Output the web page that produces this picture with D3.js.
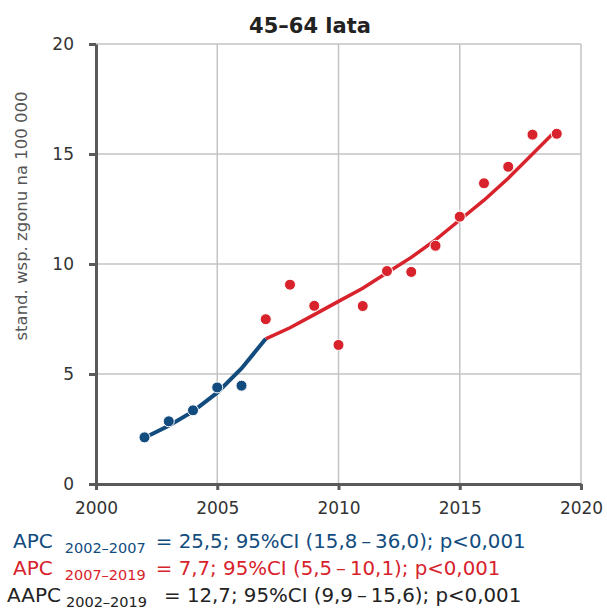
<!DOCTYPE html>
<html>
<head>
  <meta charset="UTF-8">
  <style>
    body { margin: 0; background: #fff; }
    svg { display: block; font-family: "DejaVu Sans", sans-serif; }
  </style>
</head>
<body>
<svg></svg>
<script src="https://d3js.org/d3.v7.min.js"></script>
<script>

let width = 607, height = 611;

// data
const years = [2002, 2003, 2004, 2005, 2006, 2007, 2008, 2009, 2010, 2011, 2012, 2013, 2014, 2015, 2016, 2017, 2018, 2019];
const observed = [2.12, 2.85, 3.35, 4.39, 4.47, 7.49, 9.06, 8.1, 6.32, 8.09, 9.68, 9.64, 10.83, 12.15, 13.67, 14.42, 15.88, 15.92];
const fitBlueYears = [2002, 2003, 2004, 2005, 2006, 2007];
const fitBlue = [2.1, 2.65, 3.3, 4.15, 5.25, 6.6];
const fitRedYears = [2007, 2008, 2009, 2010, 2011, 2012, 2013, 2014, 2015, 2016, 2017, 2018, 2019];
const fitRed = [6.6, 7.1, 7.7, 8.3, 8.9, 9.6, 10.3, 11.1, 12.0, 12.9, 13.9, 15.0, 16.1];
const xTicks = [2000, 2005, 2010, 2015, 2020];
const yTicks = [0, 5, 10, 15, 20];

const blue = "#124c7e", red = "#d8222c", axisCol = "#5a5a5a", gridCol = "#c3c3c3";

let svg = d3.select("svg")
    .attr("width", width)
    .attr("height", height);

let x = d3.scaleLinear().domain([2000, 2020]).range([96, 581]);
let y = d3.scaleLinear().domain([0, 20]).range([484, 44]);

// title
svg.append("text")
    .attr("x", 310).attr("y", 33)
    .attr("text-anchor", "middle")
    .style("font-size", "21px").style("font-weight", "bold").style("fill", "#222")
    .text("45–64 lata");

// grid
svg.append("g").selectAll("line")
    .data(xTicks.slice(1))
    .enter().append("line")
    .attr("x1", d => x(d)).attr("x2", d => x(d))
    .attr("y1", y(20)).attr("y2", y(0))
    .style("stroke", gridCol).style("stroke-width", 1.5);

svg.append("g").selectAll("line")
    .data(yTicks.slice(1))
    .enter().append("line")
    .attr("x1", x(2000)).attr("x2", x(2020))
    .attr("y1", d => y(d)).attr("y2", d => y(d))
    .style("stroke", gridCol).style("stroke-width", 1.5);

// axes
let yAxis = svg.append("g")
    .attr("transform", "translate(" + x(2000) + ",0)")
    .call(d3.axisLeft(y).tickValues(yTicks).tickSize(7).tickPadding(15).tickSizeOuter(0));
let xAxis = svg.append("g")
    .attr("transform", "translate(0," + y(0) + ")")
    .call(d3.axisBottom(x).tickValues(xTicks).tickFormat(d3.format("d")).tickSize(6).tickPadding(6).tickSizeOuter(0));

[yAxis, xAxis].forEach(a => {
    a.select(".domain").style("stroke", axisCol).style("stroke-width", 3);
    a.selectAll(".tick line").style("stroke", axisCol).style("stroke-width", 3);
    a.selectAll(".tick text").style("font-size", "17px").style("fill", "#333")
        .style("font-family", "'DejaVu Sans', sans-serif");
});
xAxis.selectAll(".tick text").attr("dy", "1.05em");

// y label
svg.append("text")
    .attr("transform", "translate(27,216) rotate(-90)")
    .attr("text-anchor", "middle")
    .style("font-size", "16.5px").style("fill", "#555")
    .text("stand. wsp. zgonu na 100 000");

// fitted lines
let line = d3.line().x(d => x(d[0])).y(d => y(d[1]));
svg.append("path")
    .datum(fitRedYears.map((yr, i) => [yr, fitRed[i]]))
    .attr("d", line)
    .style("fill", "none").style("stroke", red).style("stroke-width", 3.5);
svg.append("path")
    .datum(fitBlueYears.map((yr, i) => [yr, fitBlue[i]]))
    .attr("d", line)
    .style("fill", "none").style("stroke", blue).style("stroke-width", 4);

// observed points
svg.append("g").selectAll("circle")
    .data(years.map((yr, i) => [yr, observed[i]]))
    .enter().append("circle")
    .attr("cx", d => x(d[0])).attr("cy", d => y(d[1]))
    .attr("r", 5.5)
    .style("fill", d => d[0] < 2007 ? blue : red)
    .style("stroke", "#fff").style("stroke-width", 1);

// annotation lines
const notes = [
    { main: "APC", sub: "2002–2007", rest: "= 25,5; 95%CI (15,8\u2009–\u200936,0); p<0,001", color: blue, x: 13, y: 548, gap: 12, gap2: 10 },
    { main: "APC", sub: "2007–2019", rest: "= 7,7; 95%CI (5,5\u2009–\u200910,1); p<0,001", color: red, x: 13, y: 575, gap: 12, gap2: 10 },
    { main: "AAPC", sub: "2002–2019", rest: "= 12,7; 95%CI (9,9\u2009–\u200915,6); p<0,001", color: "#222", x: 7, y: 602, gap: 5, gap2: 17 }
];

notes.forEach(n => {
    let t = svg.append("text")
        .attr("x", n.x).attr("y", n.y)
        .style("font-size", "20px").style("fill", n.color);
    t.append("tspan").text(n.main);
    t.append("tspan").attr("dx", n.gap).attr("dy", 5).style("font-size", "14.5px").text(n.sub);
    t.append("tspan").attr("dx", n.gap2).attr("dy", -5).style("font-size", "19.8px").text(n.rest);
});

</script>
</body>
</html>
